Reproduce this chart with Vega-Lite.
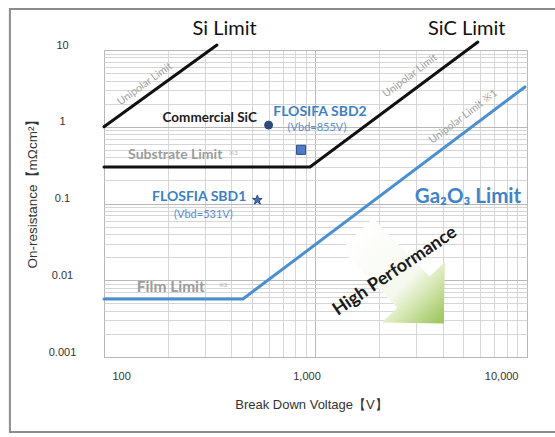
{
  "$schema": "https://vega.github.io/schema/vega-lite/v6.json",
  "width": 423,
  "height": 307,
  "autosize": {"type": "none"},
  "padding": {"left": 104, "top": 50, "right": 28, "bottom": 80},
  "background": "#ffffff",
  "config": {
    "view": {"stroke": "#bdbdbd", "strokeWidth": 1},
    "font": "Liberation Sans"
  },
  "datasets": {
    "limits": [
      {"series": "Si", "V": 100, "R": 1.0},
      {"series": "Si", "V": 342, "R": 11.6},
      {"series": "SiC", "V": 100, "R": 0.30},
      {"series": "SiC", "V": 942, "R": 0.30},
      {"series": "SiC", "V": 5860, "R": 12.7},
      {"series": "Ga2O3", "V": 100, "R": 0.0057},
      {"series": "Ga2O3", "V": 454, "R": 0.0057},
      {"series": "Ga2O3", "V": 9775, "R": 3.3}
    ],
    "devices": [
      {"device": "Commercial SiC", "V": 600, "R": 1.05},
      {"device": "FLOSFIA SBD2", "V": 855, "R": 0.5},
      {"device": "FLOSFIA SBD1", "V": 531, "R": 0.111}
    ],
    "notes": [
      {"kind": "title", "label": "Si Limit", "V": 372, "R": 18.5},
      {"kind": "title", "label": "SiC Limit", "V": 5190, "R": 18.5},
      {"kind": "unipolarSi", "label": "Unipolar Limit", "V": 156, "R": 3.6},
      {"kind": "unipolar", "label": "Unipolar Limit", "V": 2800, "R": 4.6},
      {"kind": "unipolar", "label": "Unipolar Limit ※1", "V": 5000, "R": 1.35},
      {"kind": "commercial", "label": "Commercial SiC", "V": 528, "R": 1.3},
      {"kind": "device", "label": "FLOSIFA SBD2", "V": 1050, "R": 1.56},
      {"kind": "vbd", "label": "(Vbd=855V)", "V": 1016, "R": 0.96},
      {"kind": "device", "label": "FLOSFIA SBD1", "V": 282, "R": 0.1216},
      {"kind": "vbd", "label": "(Vbd=531V)", "V": 295, "R": 0.0708},
      {"kind": "substrate", "label": "Substrate Limit", "V": 130, "R": 0.43},
      {"kind": "film", "label": "Film Limit", "V": 143, "R": 0.00817},
      {"kind": "ref", "label": "※3", "V": 410, "R": 0.455},
      {"kind": "ref", "label": "※2", "V": 365, "R": 0.00867},
      {"kind": "ga", "label": "Ga₂O₃ Limit", "V": 5260, "R": 0.1216},
      {"kind": "perf", "label": "High Performance", "V": 2377, "R": 0.0131}
    ],
    "arrow": [
      {"label": "High Performance", "V": 2520, "R": 0.0105}
    ]
  },
  "layer": [
    {
      "data": {"values": [{}]},
      "mark": {"type": "rect", "filled": false, "stroke": "#8c8c8c", "strokeWidth": 2},
      "encoding": {
        "x": {"datum": 35.9, "type": "quantitative", "scale": {"type": "log", "domain": [100, 10000], "nice": false}},
        "x2": {"datum": 14320},
        "y": {"datum": 34.2, "type": "quantitative", "scale": {"type": "log", "domain": [0.001, 10], "nice": false}},
        "y2": {"datum": 0.000105}
      }
    },
    {
      "data": {"name": "limits"},
      "mark": {"type": "line", "strokeCap": "round"},
      "encoding": {
        "x": {
          "field": "V",
          "type": "quantitative",
          "scale": {"type": "log", "domain": [100, 10000], "nice": false},
          "axis": {
            "values": [100, 200, 300, 400, 500, 600, 700, 800, 900, 1000, 2000, 3000, 4000, 5000, 6000, 7000, 8000, 9000, 10000],
            "format": ",",
            "labelExpr": "indexof([100, 1000, 10000], datum.value) >= 0 ? datum.label : ''",
            "labelFontSize": 11,
            "labelColor": "#333333",
            "labelPadding": 13,
            "labelOffset": {"condition": {"test": "datum.value == 100", "value": 8}, "value": -9},
            "ticks": false,
            "tickSize": 0,
            "domain": false,
            "grid": true,
            "gridColor": {"condition": {"test": "indexof([100, 1000, 10000], datum.value) >= 0", "value": "#b8b8b8"}, "value": "#d6d6d6"},
            "gridWidth": 1,
            "title": "Break Down Voltage【V】",
            "titleFontSize": 13,
            "titleFontWeight": "normal",
            "titleColor": "#333333",
            "titleX": 207,
            "titleY": 41,
            "titleAnchor": null,
            "titleAlign": "center",
            "titleBaseline": "top"
          }
        },
        "y": {
          "field": "R",
          "type": "quantitative",
          "scale": {"type": "log", "domain": [0.001, 10], "nice": false},
          "axis": {
            "values": [0.001, 0.002, 0.003, 0.004, 0.005, 0.006, 0.007, 0.008, 0.009, 0.01, 0.02, 0.03, 0.04, 0.05, 0.06, 0.07, 0.08, 0.09, 0.1, 0.2, 0.3, 0.4, 0.5, 0.6, 0.7, 0.8, 0.9, 1, 2, 3, 4, 5, 6, 7, 8, 9, 10],
            "format": "~g",
            "labelExpr": "indexof([0.001, 0.01, 0.1, 1, 10], datum.value) >= 0 ? datum.label : ''",
            "labelFontSize": 11,
            "labelColor": "#333333",
            "labelAlign": "center",
            "labelPadding": 42,
            "labelOffset": -5,
            "ticks": false,
            "tickSize": 0,
            "domain": false,
            "grid": true,
            "gridColor": {"condition": {"test": "indexof([0.001, 0.01, 0.1, 1, 10], datum.value) >= 0", "value": "#b8b8b8"}, "value": "#d6d6d6"},
            "gridWidth": 1,
            "title": "On-resistance【mΩcm²】",
            "titleFontSize": 13.5,
            "titleFontWeight": "normal",
            "titleColor": "#333333",
            "titleAngle": -90,
            "titleX": -72,
            "titleY": 140,
            "titleAnchor": null,
            "titleAlign": "center",
            "titleBaseline": "middle"
          }
        },
        "detail": {"field": "series"},
        "color": {
          "field": "series",
          "type": "nominal",
          "scale": {"domain": ["Si", "SiC", "Ga2O3"], "range": ["#111111", "#111111", "#4a8fd2"]},
          "legend": null
        },
        "strokeWidth": {
          "field": "series",
          "type": "nominal",
          "scale": {"domain": ["Si", "SiC", "Ga2O3"], "range": [3, 3, 4]},
          "legend": null
        }
      }
    },
    {
      "data": {"name": "arrow"},
      "mark": {
        "type": "point",
        "filled": true,
        "shape": "M -1 -0.36 L 0.3 -0.36 L 0.3 -0.7 L 1 0 L 0.3 0.7 L 0.3 0.36 L -1 0.36 Z",
        "size": 15600,
        "angle": 46,
        "opacity": 1,
        "fill": {
          "gradient": "linear",
          "x1": 0, "y1": 0, "x2": 1, "y2": 0,
          "stops": [
            {"offset": 0, "color": "#ffffff"},
            {"offset": 0.55, "color": "#f6f9ef"},
            {"offset": 0.72, "color": "#d6e7b3"},
            {"offset": 1, "color": "#98c257"}
          ]
        }
      },
      "encoding": {
        "x": {"field": "V", "type": "quantitative"},
        "y": {"field": "R", "type": "quantitative"}
      }
    },
    {
      "data": {"name": "devices"},
      "mark": {"type": "point", "filled": true, "opacity": 1, "strokeWidth": 1},
      "encoding": {
        "x": {"field": "V", "type": "quantitative"},
        "y": {"field": "R", "type": "quantitative"},
        "shape": {
          "field": "device",
          "type": "nominal",
          "scale": {"domain": ["Commercial SiC", "FLOSFIA SBD2", "FLOSFIA SBD1"], "range": ["circle", "square", "M 0 -1 L 0.235 -0.324 L 0.951 -0.309 L 0.38 0.124 L 0.588 0.809 L 0 0.4 L -0.588 0.809 L -0.38 0.124 L -0.951 -0.309 L -0.235 -0.324 Z"]},
          "legend": null
        },
        "fill": {
          "field": "device",
          "type": "nominal",
          "scale": {"domain": ["Commercial SiC", "FLOSFIA SBD2", "FLOSFIA SBD1"], "range": ["#2f4a78", "#4f7cc9", "#3e70b8"]},
          "legend": null
        },
        "size": {
          "field": "device",
          "type": "nominal",
          "scale": {"domain": ["Commercial SiC", "FLOSFIA SBD2", "FLOSFIA SBD1"], "range": [64, 100, 320]},
          "legend": null
        },
        "stroke": {"value": "#2b4a85"}
      }
    },
    {
      "data": {"name": "notes"},
      "transform": [{"filter": "datum.kind == 'title'"}],
      "mark": {"type": "text", "font": "Lato", "fontSize": 20, "color": "#111111", "align": "center", "baseline": "middle"},
      "encoding": {"x": {"field": "V", "type": "quantitative"}, "y": {"field": "R", "type": "quantitative"}, "text": {"field": "label"}}
    },
    {
      "data": {"name": "notes"},
      "transform": [{"filter": "datum.kind == 'unipolarSi'"}],
      "mark": {"type": "text", "font": "Lato", "fontSize": 10.5, "color": "#a0a0a0", "align": "center", "baseline": "middle", "angle": -36},
      "encoding": {"x": {"field": "V", "type": "quantitative"}, "y": {"field": "R", "type": "quantitative"}, "text": {"field": "label"}}
    },
    {
      "data": {"name": "notes"},
      "transform": [{"filter": "datum.kind == 'unipolar'"}],
      "mark": {"type": "text", "font": "Lato", "fontSize": 10.5, "color": "#a0a0a0", "align": "center", "baseline": "middle", "angle": -37},
      "encoding": {"x": {"field": "V", "type": "quantitative"}, "y": {"field": "R", "type": "quantitative"}, "text": {"field": "label"}}
    },
    {
      "data": {"name": "notes"},
      "transform": [{"filter": "datum.kind == 'commercial'"}],
      "mark": {"type": "text", "font": "Lato", "fontSize": 13.5, "fontWeight": "bold", "color": "#1a1a1a", "align": "right", "baseline": "middle"},
      "encoding": {"x": {"field": "V", "type": "quantitative"}, "y": {"field": "R", "type": "quantitative"}, "text": {"field": "label"}}
    },
    {
      "data": {"name": "notes"},
      "transform": [{"filter": "datum.kind == 'device'"}],
      "mark": {"type": "text", "font": "Lato", "fontSize": 14, "fontWeight": "bold", "color": "#3f7fc4", "align": "center", "baseline": "middle"},
      "encoding": {"x": {"field": "V", "type": "quantitative"}, "y": {"field": "R", "type": "quantitative"}, "text": {"field": "label"}}
    },
    {
      "data": {"name": "notes"},
      "transform": [{"filter": "datum.kind == 'vbd'"}],
      "mark": {"type": "text", "font": "Lato", "fontSize": 11, "color": "#5b8fd0", "align": "center", "baseline": "middle"},
      "encoding": {"x": {"field": "V", "type": "quantitative"}, "y": {"field": "R", "type": "quantitative"}, "text": {"field": "label"}}
    },
    {
      "data": {"name": "notes"},
      "transform": [{"filter": "datum.kind == 'substrate'"}],
      "mark": {"type": "text", "font": "Lato", "fontSize": 14, "fontWeight": "bold", "color": "#9c9c9c", "align": "left", "baseline": "middle"},
      "encoding": {"x": {"field": "V", "type": "quantitative"}, "y": {"field": "R", "type": "quantitative"}, "text": {"field": "label"}}
    },
    {
      "data": {"name": "notes"},
      "transform": [{"filter": "datum.kind == 'film'"}],
      "mark": {"type": "text", "font": "Lato", "fontSize": 15.5, "fontWeight": "bold", "color": "#9c9c9c", "align": "left", "baseline": "middle"},
      "encoding": {"x": {"field": "V", "type": "quantitative"}, "y": {"field": "R", "type": "quantitative"}, "text": {"field": "label"}}
    },
    {
      "data": {"name": "notes"},
      "transform": [{"filter": "datum.kind == 'ref'"}],
      "mark": {"type": "text", "font": "Lato", "fontSize": 6, "color": "#b0b0b0", "align": "center", "baseline": "middle"},
      "encoding": {"x": {"field": "V", "type": "quantitative"}, "y": {"field": "R", "type": "quantitative"}, "text": {"field": "label"}}
    },
    {
      "data": {"name": "notes"},
      "transform": [{"filter": "datum.kind == 'ga'"}],
      "mark": {"type": "text", "font": "Lato", "fontSize": 20.5, "fontWeight": "bold", "color": "#3f83c8", "align": "center", "baseline": "middle"},
      "encoding": {"x": {"field": "V", "type": "quantitative"}, "y": {"field": "R", "type": "quantitative"}, "text": {"field": "label"}}
    },
    {
      "data": {"name": "notes"},
      "transform": [{"filter": "datum.kind == 'perf'"}],
      "mark": {"type": "text", "font": "Lato", "fontSize": 18, "fontWeight": "bold", "color": "#1a1a1a", "align": "center", "baseline": "middle", "angle": -34},
      "encoding": {"x": {"field": "V", "type": "quantitative"}, "y": {"field": "R", "type": "quantitative"}, "text": {"field": "label"}}
    }
  ],
  "resolve": {"scale": {"fill": "independent", "shape": "independent", "size": "independent", "color": "independent", "strokeWidth": "independent"}}
}
